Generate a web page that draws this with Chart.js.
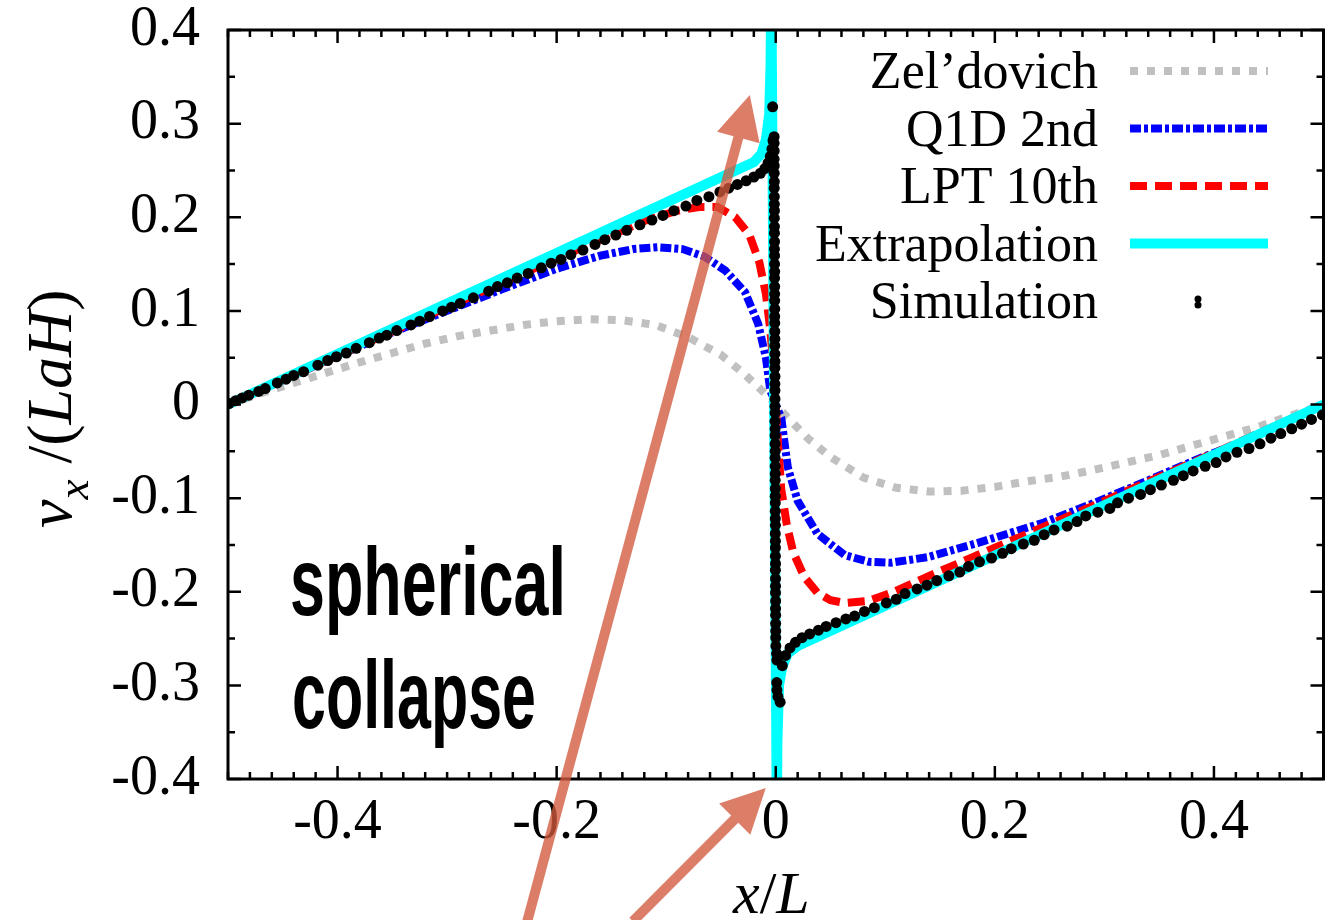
<!DOCTYPE html>
<html lang="en">
<head>
<meta charset="UTF-8">
<title>spherical collapse</title>
<style>
  html, body { margin: 0; padding: 0; background: #fff; }
  #wrap { width: 1329px; height: 920px; }
</style>
</head>
<body>
<div id="wrap"><canvas id="myChart"></canvas></div>
<script src="https://cdn.jsdelivr.net/npm/chart.js"></script>
<script>
// tick labels
const xTicks = [-0.4, -0.2, 0, 0.2, 0.4];
const yTicks = [-0.4, -0.3, -0.2, -0.1, 0, 0.1, 0.2, 0.3, 0.4];

// Zel'dovich
const zelX = [-0.5, -0.47, -0.44, -0.41, -0.38, -0.35, -0.32, -0.29, -0.26, -0.23, -0.2, -0.17, -0.14, -0.11, -0.08, -0.05, -0.03, -0.01, 0,
  0.01, 0.03, 0.05, 0.08, 0.11, 0.14, 0.17, 0.2, 0.23, 0.26, 0.29, 0.32, 0.35, 0.38, 0.41, 0.44, 0.47, 0.5];
const zelV = [0, 0.012, 0.023, 0.034, 0.045, 0.055, 0.065, 0.073, 0.079, 0.085, 0.089, 0.091, 0.09, 0.085, 0.072, 0.053, 0.034, 0.012, 0,
  -0.013, -0.037, -0.056, -0.078, -0.089, -0.093, -0.092, -0.088, -0.082, -0.077, -0.07, -0.062, -0.054, -0.044, -0.034, -0.024, -0.012, 0];

// Q1D 2nd
const q1dX = [-0.5, -0.45, -0.4, -0.35, -0.3, -0.25, -0.2, -0.16, -0.13, -0.108, -0.085, -0.065, -0.046, -0.028, -0.016, -0.009, -0.005, 0,
  0.005, 0.011, 0.02, 0.038, 0.063, 0.085, 0.105, 0.139, 0.184, 0.245, 0.291, 0.34, 0.39, 0.428, 0.46, 0.5];
const q1dV = [0, 0.026, 0.052, 0.077, 0.1, 0.123, 0.145, 0.159, 0.166, 0.168, 0.166, 0.158, 0.143, 0.12, 0.086, 0.05, 0.015, 0,
  -0.014, -0.067, -0.103, -0.138, -0.161, -0.168, -0.169, -0.163, -0.148, -0.126, -0.105, -0.081, -0.056, -0.039, -0.022, 0];

// LPT 10th
const lptX = [-0.5, -0.4, -0.3, -0.2, -0.15, -0.12, -0.09, -0.07, -0.053, -0.037, -0.024, -0.015, -0.009, -0.005, -0.002, 0,
  0.002, 0.005, 0.01, 0.016, 0.026, 0.038, 0.05, 0.063, 0.084, 0.108, 0.15, 0.2, 0.3, 0.4, 0.5];
const lptV = [0, 0.052, 0.104, 0.156, 0.181, 0.196, 0.207, 0.211, 0.211, 0.2, 0.181, 0.152, 0.118, 0.08, 0.04, 0,
  -0.04, -0.09, -0.128, -0.158, -0.184, -0.201, -0.209, -0.212, -0.21, -0.2, -0.178, -0.153, -0.103, -0.052, 0];

// Extrapolation
const extX = [-0.5, -0.02, -0.013, -0.009, -0.006, -0.0048, -0.004, 0.001, 0.0015, 0.003, 0.006, 0.011, 0.02, 0.5];
const extV = [0, 0.259, 0.268, 0.283, 0.31, 0.36, 0.45, -0.45, -0.36, -0.3, -0.28, -0.266, -0.258, 0];

// Simulation
const simX = [-0.499, -0.493, -0.487, -0.481, -0.472, -0.466, -0.455, -0.447, -0.44, -0.431, -0.418, -0.409, -0.401, -0.392, -0.383,
  -0.371, -0.362, -0.355, -0.346, -0.333, -0.325, -0.316, -0.304, -0.296, -0.288, -0.276, -0.262, -0.254, -0.245, -0.236,
  -0.226, -0.214, -0.205, -0.196, -0.187, -0.176, -0.165, -0.156, -0.146, -0.136, -0.124, -0.113, -0.103, -0.093, -0.082,
  -0.072, -0.061, -0.051, -0.043, -0.035, -0.027, -0.02, -0.014, -0.01, -0.007, -0.005, -0.0035, -0.0025, -0.0028,
  -0.0015, -0.0015, -0.0014, -0.0015, -0.0014, -0.0014, -0.0013, -0.0014, -0.0013, -0.0013, -0.0012, -0.0013, -0.0012, -0.0012,
  -0.0011, -0.0012, -0.0011, -0.0011, -0.001, -0.0011, -0.001, -0.001, -0.001, -0.0009, -0.001, -0.0009, -0.0009, -0.0008,
  -0.0009, -0.0008, -0.0008, -0.0008, -0.0007, -0.0008, -0.0007, -0.0007, -0.0007, -0.0006, -0.0007, -0.0006, -0.0006, -0.0006,
  -0.0005, -0.0006, -0.0005, -0.0005, -0.0005, -0.0004, -0.0005, -0.0004, -0.0004, -0.0004, -0.0003, -0.0004, -0.0003, -0.0003,
  -0.0003, -0.0002, -0.0003, -0.0002, -0.0002, -0.0002, -0.0001, -0.0002, -0.0001, -0.0001, 0, 0, 0.0001,
  0.0008, 0.001, 0.0009, 0.0011, 0.002, 0.004, 0.006, 0.009, 0.013, 0.018, 0.024, 0.031, 0.039, 0.046,
  0.055, 0.064, 0.072, 0.081, 0.09, 0.101, 0.11, 0.118, 0.129, 0.138, 0.147, 0.158, 0.168, 0.176, 0.186, 0.197, 0.207, 0.215,
  0.226, 0.236, 0.245, 0.254, 0.266, 0.275, 0.283, 0.294, 0.305, 0.312, 0.322, 0.333, 0.342, 0.352, 0.363, 0.372, 0.381,
  0.392, 0.402, 0.411, 0.421, 0.432, 0.442, 0.452, 0.461, 0.471, 0.48, 0.489, 0.499];
const simV = [0.001, 0.004, 0.007, 0.01, 0.014, 0.017, 0.023, 0.027, 0.031, 0.035, 0.042, 0.047, 0.051, 0.055, 0.06,
  0.066, 0.071, 0.074, 0.079, 0.085, 0.089, 0.094, 0.1, 0.104, 0.108, 0.114, 0.121, 0.126, 0.13, 0.135,
  0.14, 0.146, 0.151, 0.155, 0.16, 0.165, 0.171, 0.176, 0.181, 0.186, 0.192, 0.197, 0.202, 0.207, 0.212,
  0.218, 0.222, 0.227, 0.231, 0.235, 0.239, 0.243, 0.247, 0.252, 0.258, 0.265, 0.273, 0.282, 0.318,
  0.286, 0.279, 0.271, 0.262, 0.255, 0.247, 0.238, 0.231, 0.222, 0.214, 0.207, 0.199, 0.19, 0.183,
  0.174, 0.166, 0.159, 0.15, 0.142, 0.135, 0.126, 0.118, 0.111, 0.102, 0.094, 0.087, 0.078, 0.07,
  0.063, 0.054, 0.046, 0.039, 0.03, 0.022, 0.015, 0.006, -0.002, -0.009, -0.018, -0.026, -0.033, -0.042,
  -0.05, -0.057, -0.066, -0.074, -0.081, -0.09, -0.098, -0.105, -0.114, -0.122, -0.129, -0.138, -0.146, -0.153,
  -0.162, -0.17, -0.177, -0.186, -0.194, -0.201, -0.21, -0.218, -0.225, -0.234, -0.242, -0.249, -0.258, -0.266, -0.273,
  -0.297, -0.305, -0.312, -0.318, -0.279, -0.268, -0.26, -0.254, -0.249, -0.245, -0.241, -0.237, -0.233, -0.229,
  -0.226, -0.221, -0.217, -0.212, -0.208, -0.202, -0.197, -0.193, -0.188, -0.183, -0.179, -0.173, -0.168, -0.164, -0.159, -0.154, -0.149, -0.145,
  -0.139, -0.134, -0.13, -0.125, -0.119, -0.115, -0.111, -0.105, -0.1, -0.096, -0.091, -0.086, -0.081, -0.076, -0.071, -0.066, -0.062,
  -0.056, -0.051, -0.047, -0.042, -0.036, -0.031, -0.026, -0.021, -0.016, -0.011, -0.006, -0.001];

// arrows, in data coordinates: [tailX, tailV, tipX, tipV]
const arrows = [[-0.228, -0.557, -0.0237, 0.3305], [-0.1304, -0.552, -0.0091, -0.4096]];

const serif = "'Liberation Serif', 'Times New Roman', serif";

function pts(xs, ys) {
  return xs.map(function (x, i) { return { x: x, y: ys[i] }; });
}

const decorations = {
  id: 'decorations',
  afterDatasetsDraw(chart) {
    const ctx = chart.ctx;
    const a = chart.chartArea;
    const xs = chart.scales.x, ys = chart.scales.y;
    ctx.save();
    ctx.strokeStyle = '#000';
    ctx.lineWidth = 2.5;
    ctx.beginPath();
    // x ticks, major every 0.2, minor every 0.02
    for (let i = -25; i <= 25; i++) {
      const p = xs.getPixelForValue(i / 50);
      const l = (Math.abs(i) % 10 === 0) ? 13 : 7;
      ctx.moveTo(p, a.bottom); ctx.lineTo(p, a.bottom - l);
      ctx.moveTo(p, a.top); ctx.lineTo(p, a.top + l);
    }
    // y ticks, major every 0.1, minor every 0.05
    for (let i = -8; i <= 8; i++) {
      const p = ys.getPixelForValue(i / 20);
      const l = (i % 2 === 0) ? 13 : 7;
      ctx.moveTo(a.left, p); ctx.lineTo(a.left + l, p);
      ctx.moveTo(a.right, p); ctx.lineTo(a.right - l, p);
    }
    ctx.stroke();
    ctx.lineWidth = 3;
    ctx.strokeRect(a.left, a.top, a.right - a.left, a.bottom - a.top);

    // legend
    ctx.font = '52px ' + serif;
    ctx.textAlign = 'right';
    ctx.textBaseline = 'alphabetic';
    chart.data.datasets.forEach(function (ds, i) {
      const yc = 71 + i * 57.5;
      ctx.fillStyle = '#000';
      ctx.fillText(ds.label, 1098, yc + 17);
      if (ds.showLine === false) {
        ctx.beginPath();
        ctx.arc(1198, yc - 2, 3.5, 0, Math.PI * 2);
        ctx.arc(1198, yc + 4, 3.5, 0, Math.PI * 2);
        ctx.fill();
      } else {
        ctx.setLineDash(ds.borderDash || []);
        ctx.lineWidth = ds.borderWidth;
        ctx.strokeStyle = ds.borderColor;
        ctx.beginPath();
        ctx.moveTo(1130, yc); ctx.lineTo(1268, yc);
        ctx.stroke();
        ctx.setLineDash([]);
      }
    });
    ctx.restore();
  },
  afterDraw(chart) {
    const ctx = chart.ctx;
    ctx.save();
    ctx.fillStyle = '#000';

    // annotation text
    ctx.font = "bold 96px 'Liberation Sans', Arial, sans-serif";
    ctx.textAlign = 'left';
    ctx.textBaseline = 'alphabetic';
    [['spherical', 290, 615, 276], ['collapse', 292, 728, 244]].forEach(function (t) {
      const w = ctx.measureText(t[0]).width;
      ctx.save();
      ctx.translate(t[1], t[2]);
      ctx.scale(t[3] / w, 1);
      ctx.fillText(t[0], 0, 0);
      ctx.restore();
    });

    // y axis title
    ctx.save();
    ctx.translate(71, 528);
    ctx.rotate(-Math.PI / 2);
    let px = 0;
    [['v', 'italic 64px ', 0], ['x', 'italic 45px ', 17], [' /(', '64px ', 0], ['LaH', 'italic 64px ', 0], [')', '64px ', 0]]
      .forEach(function (s) {
        ctx.font = s[1] + serif;
        ctx.fillText(s[0], px, s[2]);
        px += ctx.measureText(s[0]).width;
      });
    ctx.restore();

    // x axis title
    px = 733;
    [['x', 'italic 60px '], ['/', '60px '], ['L', 'italic 60px ']].forEach(function (s) {
      ctx.font = s[1] + serif;
      ctx.fillText(s[0], px, 913);
      px += ctx.measureText(s[0]).width;
    });

    // arrows
    const xs = chart.scales.x, ys = chart.scales.y;
    ctx.fillStyle = 'rgba(210, 88, 62, 0.78)';
    arrows.forEach(function (ar) {
      const x0 = xs.getPixelForValue(ar[0]), y0 = ys.getPixelForValue(ar[1]);
      const x1 = xs.getPixelForValue(ar[2]), y1 = ys.getPixelForValue(ar[3]);
      const ang = Math.atan2(y1 - y0, x1 - x0);
      const len = Math.hypot(x1 - x0, y1 - y0);
      const head = 44, half = 22, sw = 5;
      ctx.save();
      ctx.translate(x0, y0);
      ctx.rotate(ang);
      ctx.beginPath();
      ctx.moveTo(0, -sw);
      ctx.lineTo(len - head, -sw);
      ctx.lineTo(len - head, -half);
      ctx.lineTo(len, 0);
      ctx.lineTo(len - head, half);
      ctx.lineTo(len - head, sw);
      ctx.lineTo(0, sw);
      ctx.closePath();
      ctx.fill();
      ctx.restore();
    });
    ctx.restore();
  }
};

const ctx = document.getElementById('myChart');
new Chart(ctx, {
  type: 'scatter',
  data: {
    datasets: [
      { label: 'Zel\u2019dovich', data: pts(zelX, zelV), showLine: true, borderColor: '#c0c0c0', borderWidth: 8,
        borderDash: [8, 9], pointRadius: 0, order: 4, clip: 0 },
      { label: 'Q1D 2nd', data: pts(q1dX, q1dV), showLine: true, borderColor: '#0000ff', borderWidth: 8,
        borderDash: [11, 3, 4, 3], pointRadius: 0, order: 3, clip: 0 },
      { label: 'LPT 10th', data: pts(lptX, lptV), showLine: true, borderColor: '#ff0000', borderWidth: 8,
        borderDash: [17, 8], pointRadius: 0, order: 2, clip: 0 },
      { label: 'Extrapolation', data: pts(extX, extV), showLine: true, borderColor: '#00ffff', borderWidth: 10,
        pointRadius: 0, order: 1, clip: 0 },
      { label: 'Simulation', data: pts(simX, simV), showLine: false, backgroundColor: '#000', borderWidth: 0,
        pointRadius: 5.5, order: 0, clip: 0 }
    ]
  },
  options: {
    responsive: true,
    maintainAspectRatio: false,
    animation: false,
    layout: { padding: { left: 0, right: 3, top: 30, bottom: 0 } },
    plugins: { legend: { display: false }, tooltip: { enabled: false } },
    scales: {
      x: {
        type: 'linear', min: -0.5, max: 0.5,
        afterFit: function (s) { s.height = 141; s.paddingLeft = 0; s.paddingRight = 0; },
        afterBuildTicks: function (s) { s.ticks = xTicks.map(function (v) { return { value: v }; }); },
        grid: { display: false, drawTicks: false },
        border: { display: false },
        ticks: { padding: 11, color: '#000', font: { family: serif, size: 56 },
          callback: function (v) { return String(Math.round(v * 10) / 10); } }
      },
      y: {
        type: 'linear', min: -0.4, max: 0.4,
        afterFit: function (s) { s.width = 228; s.paddingTop = 0; s.paddingBottom = 0; },
        afterBuildTicks: function (s) { s.ticks = yTicks.map(function (v) { return { value: v }; }); },
        grid: { display: false, drawTicks: false },
        border: { display: false },
        ticks: { padding: 28, color: '#000', font: { family: serif, size: 56 },
          callback: function (v) { return String(Math.round(v * 10) / 10); } }
      }
    }
  },
  plugins: [decorations]
});
</script>
</body>
</html>
